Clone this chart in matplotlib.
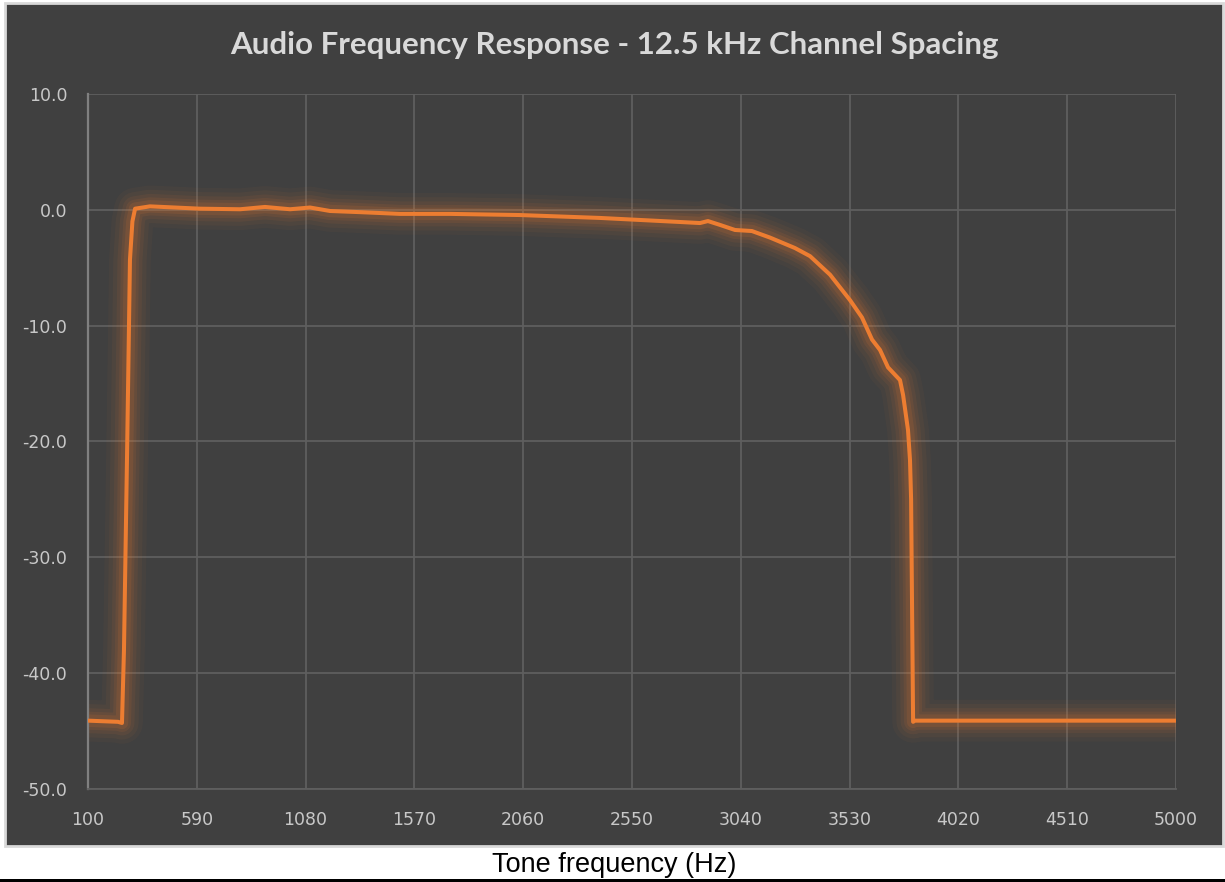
import matplotlib
matplotlib.use("Agg")
import matplotlib.pyplot as plt
from matplotlib.patches import Rectangle
import numpy as np

freq = [100, 235, 253, 262, 276, 289, 300, 312, 379, 604, 785, 897, 1010,
        1100, 1190, 1325, 1505, 1730, 2046, 2406, 2766, 2856, 2892, 2946,
        3014, 3090, 3172, 3284, 3352, 3442, 3532, 3586, 3631, 3667, 3703,
        3757, 3771, 3793, 3802, 3807, 3811, 3816, 3824, 5000]
resp = [-44.1, -44.2, -44.3, -38.0, -21.0, -4.3, -1.0, 0.1, 0.3, 0.1, 0.05,
        0.25, 0.05, 0.2, -0.1, -0.2, -0.35, -0.35, -0.45, -0.7, -1.05,
        -1.14, -0.97, -1.3, -1.74, -1.83, -2.4, -3.3, -4.0, -5.6, -7.8,
        -9.3, -11.2, -12.1, -13.6, -14.7, -16.0, -19.0, -21.6, -25.0,
        -33.7, -44.2, -44.1, -44.1]

xticks = [100, 590, 1080, 1570, 2060, 2550, 3040, 3530, 4020, 4510, 5000]
yticks = [-50, -40, -30, -20, -10, 0, 10]

title = "Audio Frequency Response - 12.5 kHz Channel Spacing"
xlabel = "Tone frequency (Hz)"

W, H = 1225, 882
fig = plt.figure(figsize=(W / 100, H / 100), dpi=100, facecolor="white")

# dark chart panel
fig.patches.append(Rectangle((5 / W, 1 - 846 / H), 1218 / W, 843 / H,
                             transform=fig.transFigure, facecolor="#404040",
                             edgecolor="#d9d9d9", linewidth=2, zorder=-10))
# black rule at the bottom
fig.patches.append(Rectangle((0, 0), 1, 3.5 / H, transform=fig.transFigure,
                             facecolor="black", edgecolor="none", zorder=-10))

ax = fig.add_axes([88 / W, 1 - 789 / H, (1176 - 88) / W, (789 - 94) / H])
ax.set_zorder(5)
ax.set_facecolor("#404040")

orange = "#ED7D31"
# soft glow around the line
for lw, a in [(30, 0.04), (24, 0.05), (18, 0.07), (13, 0.09), (9, 0.12)]:
    ax.plot(freq, resp, color=orange, lw=lw, alpha=a,
            solid_joinstyle="round", solid_capstyle="butt", zorder=2)
ax.plot(freq, resp, color=orange, lw=2.9, solid_joinstyle="round", zorder=3)

ax.set_xlim(100, 5000)
ax.set_ylim(-50, 10)
ax.set_xticks(xticks)
ax.set_yticks(yticks)
ax.set_yticklabels([f"{v:.1f}" for v in yticks])
ax.grid(True, color="#5f5f5f", lw=1.3, zorder=1)
ax.tick_params(length=0, colors="#c8c8c8", labelsize=12.5)
ax.tick_params(axis="x", pad=16)
ax.tick_params(axis="y", pad=15)

for s in ["top", "right"]:
    ax.spines[s].set_visible(False)
ax.spines["left"].set_color("#808080")
ax.spines["left"].set_linewidth(1.6)
ax.spines["bottom"].set_color("#5f5f5f")
ax.spines["bottom"].set_linewidth(1.3)

fig.text(614 / W, 1 - 45 / H, title, ha="center", va="center",
         fontsize=22.5, fontweight="bold", color="#d9d9d9", family="Lato")
fig.text(614 / W, 1 - 865 / H, xlabel, ha="center", va="center",
         fontsize=19.5, color="black", family="Liberation Sans")

fig.savefig("out.png", dpi=100, facecolor="white")
